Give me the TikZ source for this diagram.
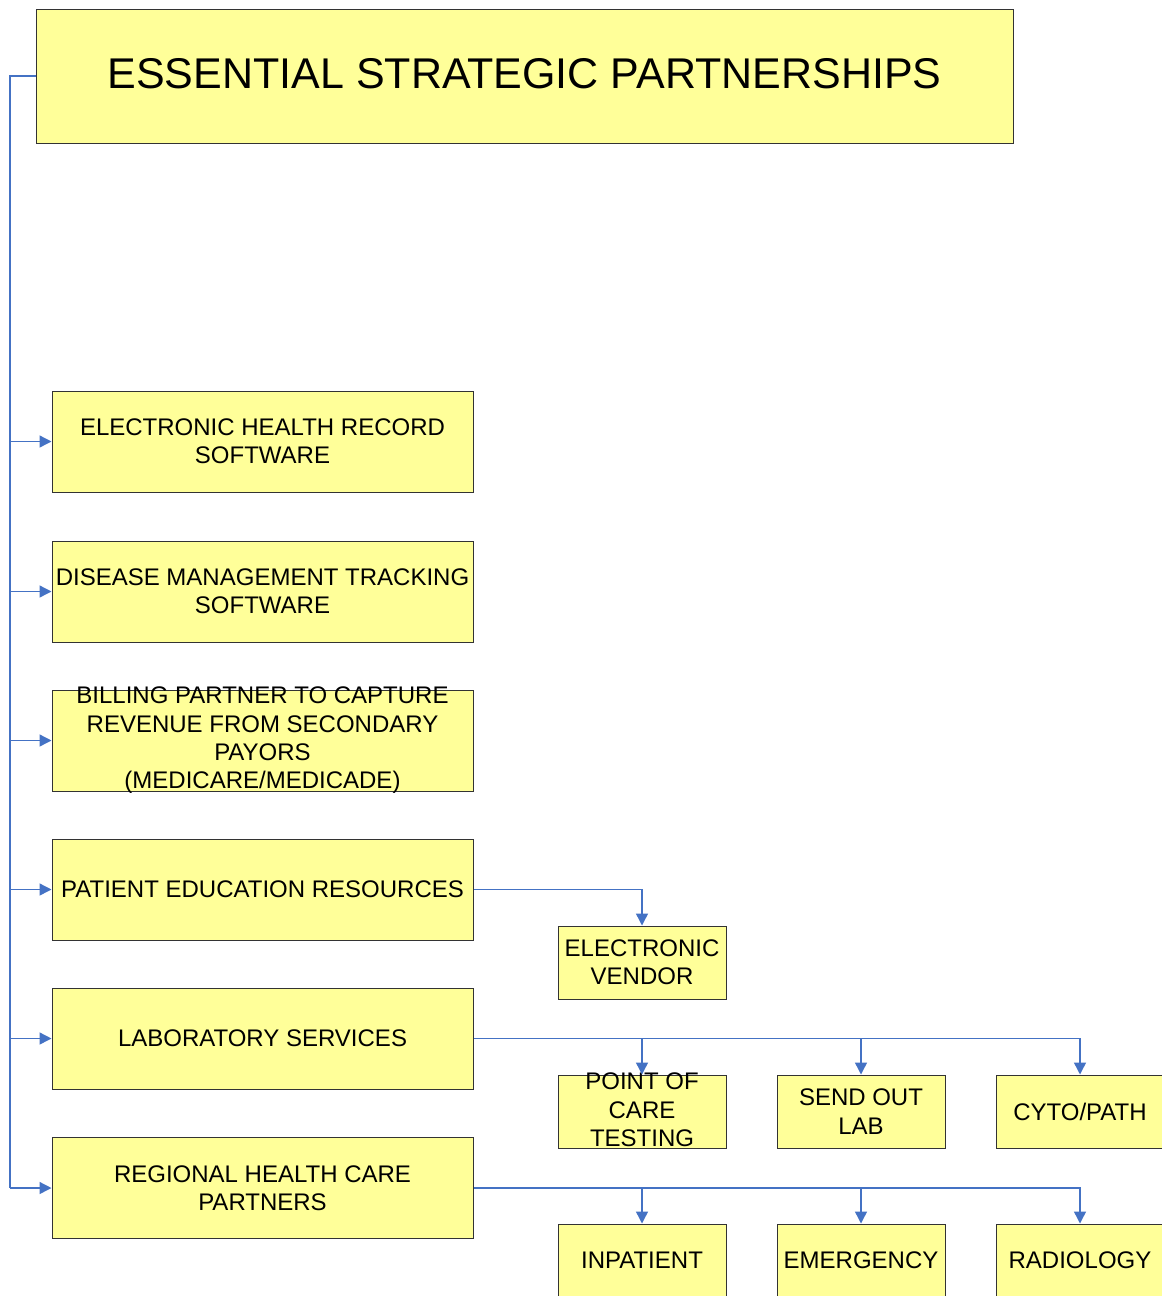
\documentclass[tikz,border=0pt]{standalone}
\usepackage{fontspec}
\setmainfont{Liberation Sans}
\usetikzlibrary{arrows.meta}
\definecolor{boxfill}{HTML}{FFFF99}
\definecolor{boxline}{HTML}{333333}
\definecolor{conn}{HTML}{4472C4}
\tikzset{
  box/.style={draw=boxline, fill=boxfill, line width=1pt, inner sep=0pt},
  bigbox/.style={box, minimum width=421pt, minimum height=101pt},
  smallbox/.style={box, minimum width=168pt, minimum height=73pt},
  txt/.style={align=center, inner sep=0pt, font=\fontsize{24}{28.3}\selectfont},
  line/.style={draw=conn, line width=1.4pt},
  arr/.style={line, -{Triangle[length=12pt, width=12pt]}}
}
\begin{document}
\begin{tikzpicture}[x=1pt, y=-1pt]
\useasboundingbox (0,0) rectangle (1162,1296);
\clip (0,0) rectangle (1162,1296);
\fill[white] (0,0) rectangle (1162,1296);

% title
\node[box, minimum width=977pt, minimum height=134pt] (title) at (524.5,76) {};
\node[inner sep=0pt, font=\fontsize{43}{48}\selectfont] (titlet) at (524.5,74) {ESSENTIAL STRATEGIC PARTNERSHIPS};

% left boxes
\node[bigbox] (ehr) at (262.5,441.5) {};
\node[txt] (ehrt) at (ehr.center) {ELECTRONIC HEALTH RECORD\\SOFTWARE};
\node[bigbox] (dmt) at (262.5,591.5) {};
\node[txt] (dmtt) at (dmt.center) {DISEASE MANAGEMENT TRACKING\\SOFTWARE};
\node[bigbox] (bill) at (262.5,740.5) {};
\node[txt] (billt) at (bill.center) {BILLING PARTNER TO CAPTURE\\REVENUE FROM SECONDARY\\PAYORS\\(MEDICARE/MEDICADE)};
\node[bigbox] (per) at (262.5,889.5) {};
\node[txt] (pert) at (per.center) {PATIENT EDUCATION RESOURCES};
\node[bigbox] (lab) at (262.5,1038.5) {};
\node[txt] (labt) at (lab.center) {LABORATORY SERVICES};
\node[bigbox] (reg) at (262.5,1188) {};
\node[txt] (regt) at (reg.center) {REGIONAL HEALTH CARE\\PARTNERS};

% right boxes
\node[smallbox] (ev) at (642,962.5) {};
\node[txt] (evt) at (ev.center) {ELECTRONIC\\VENDOR};
\node[smallbox] (poc) at (642,1111.5) {};
\node[txt] (poct) at (642,1110) {POINT OF\\CARE\\TESTING};
\node[smallbox] (sol) at (861,1111.5) {};
\node[txt] (solt) at (sol.center) {SEND OUT\\LAB};
\node[smallbox] (cyto) at (1080,1111.5) {};
\node[txt] (cytot) at (cyto.center) {CYTO/PATH};
\node[smallbox] (inp) at (642,1260.5) {};
\node[txt] (inpt) at (inp.center) {INPATIENT};
\node[smallbox] (emg) at (861,1260.5) {};
\node[txt] (emgt) at (emg.center) {EMERGENCY};
\node[smallbox] (rad) at (1080,1260.5) {};
\node[txt] (radt) at (rad.center) {RADIOLOGY};

% trunk
\coordinate (trunk) at (10,76);
\draw[line] (title.west) -- (trunk) -- (trunk |- reg.west);
\foreach \b in {ehr,dmt,bill,per,lab,reg}
  \draw[arr] (trunk |- \b.west) -- (\b.west);

% patient education
\draw[arr] (per.east) -| (ev.north);

% laboratory
\draw[arr] (lab.east) -| (cyto.north);
\draw[arr] (lab.east -| poc.north) -- (poc.north);
\draw[arr] (lab.east -| sol.north) -- (sol.north);

% regional
\draw[arr] (reg.east) -| (rad.north);
\draw[arr] (reg.east -| inp.north) -- (inp.north);
\draw[arr] (reg.east -| emg.north) -- (emg.north);
\end{tikzpicture}
\end{document}
